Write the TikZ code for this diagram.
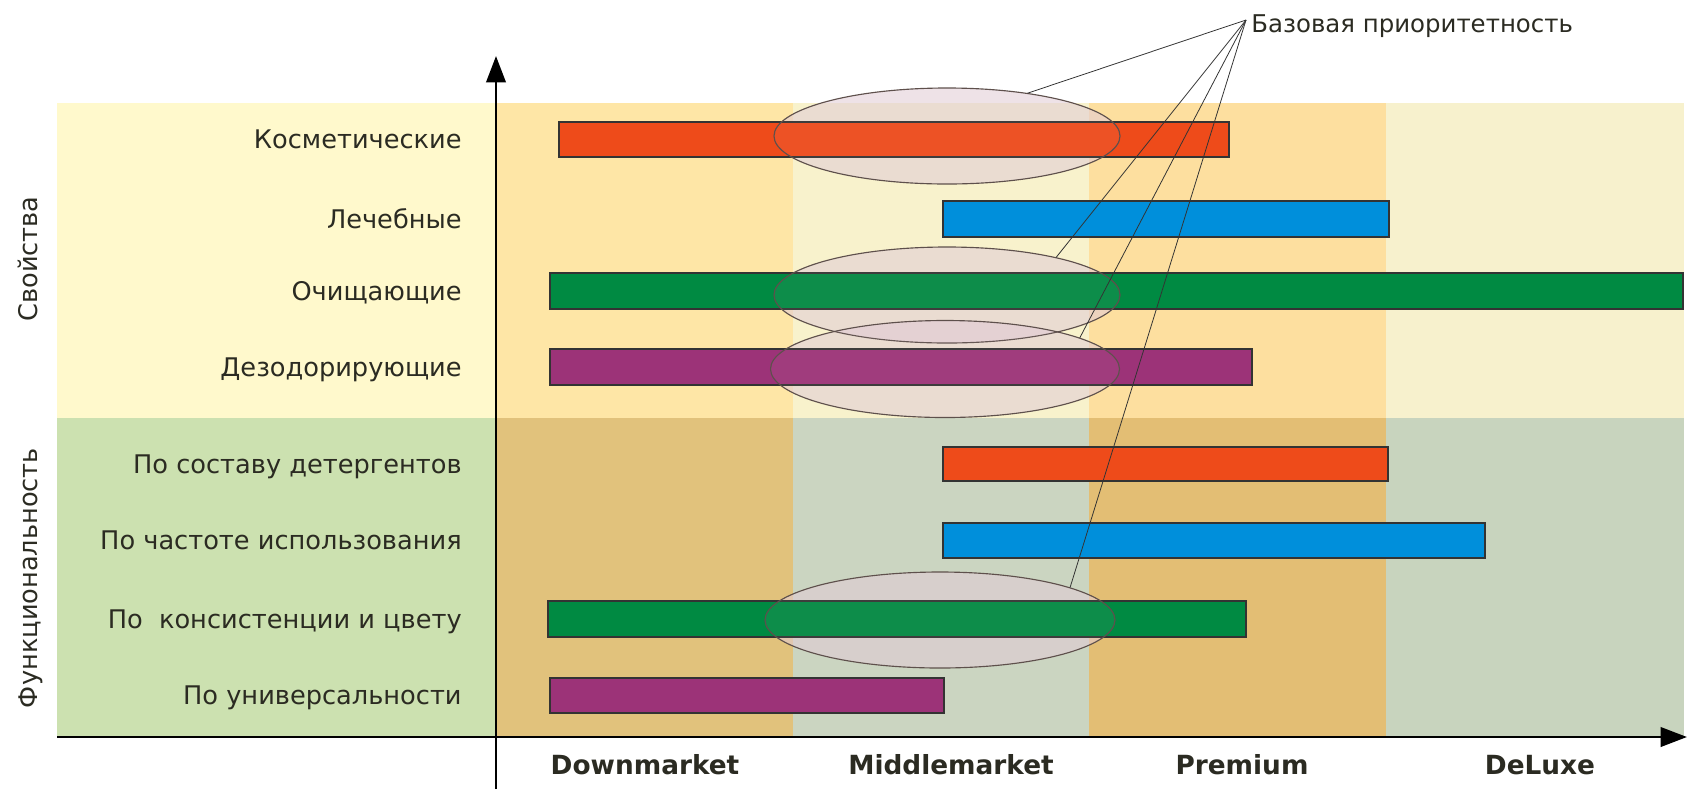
\documentclass[tikz,border=0pt]{standalone}
\usepackage{fontspec}
\setmainfont{DejaVu Sans}
\usetikzlibrary{arrows.meta,shapes.geometric}

\definecolor{leftTop}{HTML}{FFF9CC}
\definecolor{leftBot}{HTML}{CCE1B0}
\definecolor{lowTop}{HTML}{FEE6A6}
\definecolor{lowBot}{HTML}{E1C27C}
\definecolor{midTop}{HTML}{F8F2CC}
\definecolor{midBot}{HTML}{CBD5C1}
\definecolor{premTop}{HTML}{FDDF9F}
\definecolor{premBot}{HTML}{E3BE74}
\definecolor{luxTop}{HTML}{F7F1CD}
\definecolor{luxBot}{HTML}{C8D4BE}
\definecolor{barOrange}{HTML}{EE4B1A}
\definecolor{barBlue}{HTML}{008FDB}
\definecolor{barGreen}{HTML}{008A42}
\definecolor{barPurple}{HTML}{9C3378}
\definecolor{hazeCol}{HTML}{E2CCD6}
\definecolor{ringCol}{HTML}{5E504C}
\definecolor{txtCol}{HTML}{2B2B22}

\tikzset{
  bar/.style={draw=black!80, line width=0.75pt},
  rowlabel/.style={anchor=base east, inner sep=0pt, text=txtCol,
    font=\fontsize{14.6}{17}\selectfont},
  grouplabel/.style={anchor=base, rotate=90, inner sep=0pt, text=txtCol,
    font=\fontsize{14.6}{17}\selectfont},
  axlabel/.style={anchor=base, inner sep=0pt, text=txtCol,
    font=\bfseries\fontsize{15}{17}\selectfont},
  haze/.style={ellipse, inner sep=0pt, fill=hazeCol, fill opacity=0.55},
  ring/.style={draw=ringCol, line width=0.65pt, fill=hazeCol, fill opacity=0.06},
  callout/.style={draw=black!80, line width=0.45pt},
  axis/.style={line width=1.6pt, -{Triangle[length=15pt, width=11pt]}},
}

\begin{document}
\begin{tikzpicture}[x=0.02cm, y=-0.02cm]
\useasboundingbox (0,0) rectangle (1687,789);

% background cells: label area and four market columns
\fill[leftTop] (57,103) rectangle (496,418);
\fill[leftBot] (57,418) rectangle (496,737);
\fill[lowTop]  (496,103) rectangle (793,418);
\fill[lowBot]  (496,418) rectangle (793,737);
\fill[midTop]  (793,103) rectangle (1089,418);
\fill[midBot]  (793,418) rectangle (1089,737);
\fill[premTop] (1089,103) rectangle (1386,418);
\fill[premBot] (1089,418) rectangle (1386,737);
\fill[luxTop]  (1386,103) rectangle (1684,418);
\fill[luxBot]  (1386,418) rectangle (1684,737);

% translucent priority zones
\node[haze, minimum width=6.92cm, minimum height=1.92cm] (e1) at (947,136) {};
\node[haze, minimum width=6.92cm, minimum height=1.92cm] (e2) at (947,295) {};
\node[haze, minimum width=6.98cm, minimum height=1.94cm] (e3) at (945,369) {};
\node[haze, minimum width=7.0cm, minimum height=1.92cm] (e4) at (940,620) {};

% range bars
\filldraw[bar, fill=barOrange] (559,122) rectangle (1229,157);
\filldraw[bar, fill=barBlue]   (943,201) rectangle (1389,237);
\filldraw[bar, fill=barGreen]  (550,273) rectangle (1683,309);
\filldraw[bar, fill=barPurple] (550,349) rectangle (1252,385);
\filldraw[bar, fill=barOrange] (943,447) rectangle (1388,481);
\filldraw[bar, fill=barBlue]   (943,523) rectangle (1485,558);
\filldraw[bar, fill=barGreen]  (548,601) rectangle (1246,637);
\filldraw[bar, fill=barPurple] (550,678) rectangle (944,713);

% outlines of the priority zones
\filldraw[ring] (e1.center) ellipse [x radius=173, y radius=48];
\filldraw[ring] (e2.center) ellipse [x radius=173, y radius=48];
\filldraw[ring] (e3.center) ellipse [x radius=174.5, y radius=48.5];
\filldraw[ring] (e4.center) ellipse [x radius=175, y radius=48];

% axes
\coordinate (yfoot) at (496,789);
\coordinate (ytip) at (496,56);
\coordinate (xfoot) at (57,737);
\coordinate (xtip) at (1687,737);
\draw[axis] (yfoot) -- (ytip);
\draw[axis] (xfoot) -- (xtip);

% row labels
\node[rowlabel] (r1) at (462,148.5) {Косметические};
\node[rowlabel] (r2) at (462,228) {Лечебные};
\node[rowlabel] (r3) at (462,300) {Очищающие};
\node[rowlabel] (r4) at (462,376) {Дезодорирующие};
\node[rowlabel] (r5) at (462,473) {По составу детергентов};
\node[rowlabel] (r6) at (462,549.5) {По частоте использования};
\node[rowlabel] (r7) at (462,628) {По\ \ консистенции и цвету};
\node[rowlabel] (r8) at (462,704.5) {По универсальности};

% group labels
\node[grouplabel] (g1) at (37,259) {Свойства};
\node[grouplabel] (g2) at (37,578) {Функциональность};

% market segments
\node[axlabel] (m1) at (645,774) {Downmarket};
\node[axlabel] (m2) at (951,774) {Middlemarket};
\node[axlabel] (m3) at (1242,774) {Premium};
\node[axlabel] (m4) at (1540,774) {DeLuxe};

% callout
\coordinate (apex) at (1246,20);
\node[anchor=base west, inner sep=0pt, text=txtCol,
  font=\fontsize{13.9}{16}\selectfont] (title) at (1251,32) {Базовая приоритетность};
\draw[callout] (apex) -- (e1.28);
\draw[callout] (apex) -- (e2.19);
\draw[callout] (apex) -- (e3.13);
\draw[callout] (apex) -- (e4.14);
\end{tikzpicture}
\end{document}
